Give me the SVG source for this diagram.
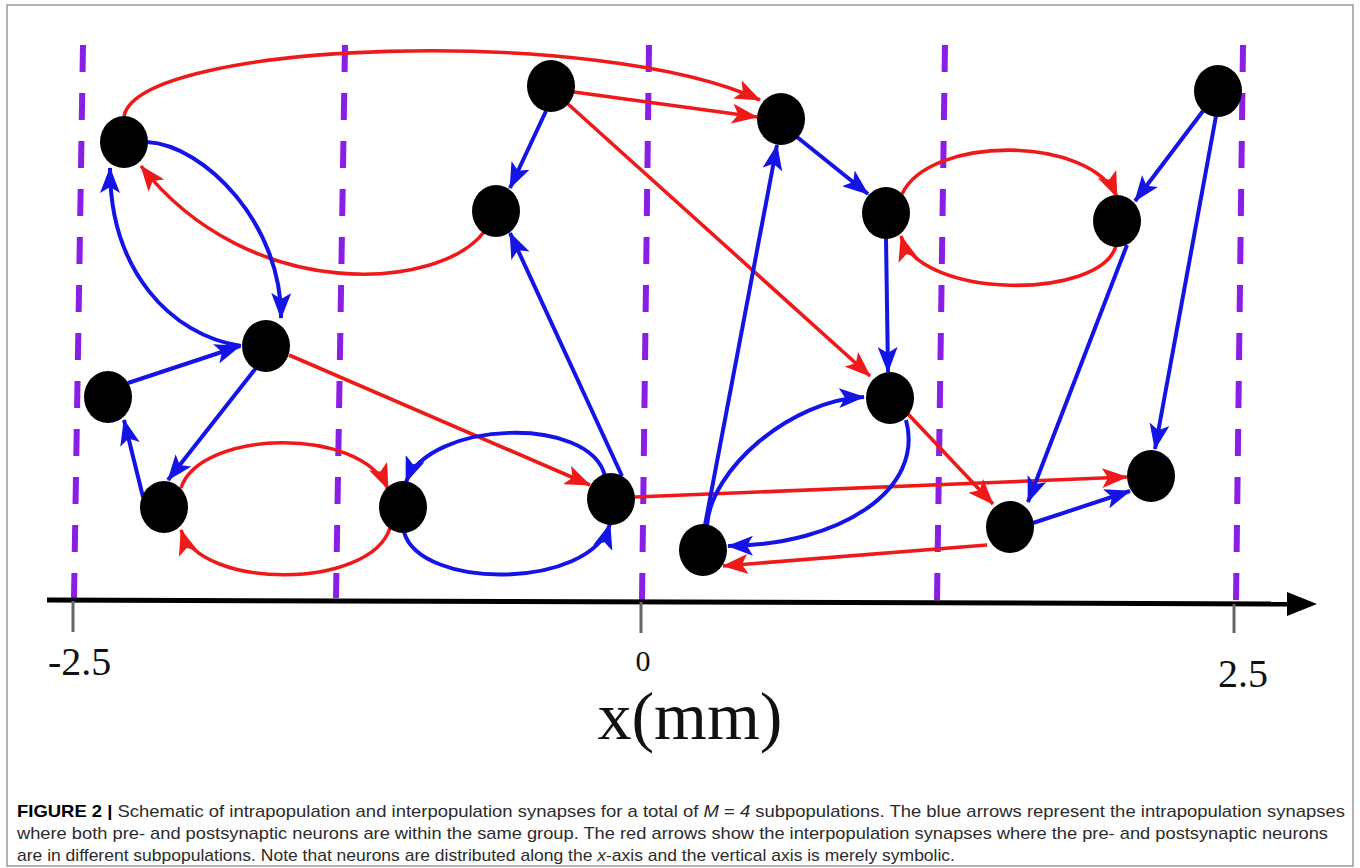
<svg xmlns="http://www.w3.org/2000/svg" width="1360" height="868" viewBox="0 0 1360 868">
<style>
.dash{stroke:#8a1ee6;stroke-width:6;stroke-dasharray:27 21;fill:none}
.red{stroke:#ee1a1a;stroke-width:3.6;fill:none;marker-end:url(#ahR)}
.blue{stroke:#1414e6;stroke-width:4;fill:none;marker-end:url(#ahB)}
.node{fill:#000}
.tick{stroke:#666;stroke-width:3}
.num{font-family:"Liberation Serif","Times New Roman",serif;fill:#111}
.cap{font-family:"Liberation Sans",Arial,sans-serif;font-size:17px;fill:#2b2b2b}
</style>
<defs>
<marker id="ahR" viewBox="0 0 26 20" refX="25" refY="10" markerWidth="26" markerHeight="20" markerUnits="userSpaceOnUse" orient="auto"><path d="M0,0 L26,10 L0,20 L6,10 z" fill="#ee1a1a"/></marker>
<marker id="ahB" viewBox="0 0 26 20" refX="25" refY="10" markerWidth="26" markerHeight="20" markerUnits="userSpaceOnUse" orient="auto"><path d="M0,0 L26,10 L0,20 L6,10 z" fill="#1414e6"/></marker>
</defs>
<rect x="0" y="0" width="1360" height="868" fill="#fff"/>
<rect x="7" y="5" width="1346" height="861" fill="none" stroke="#9a9a9a" stroke-width="1.5"/>
<g id="grid">
<line class="dash" x1="83" y1="45" x2="74" y2="598"/>
<line class="dash" x1="345" y1="45" x2="336" y2="598"/>
<line class="dash" x1="649" y1="45" x2="642" y2="600"/>
<line class="dash" x1="945" y1="45" x2="937" y2="600"/>
<line class="dash" x1="1243" y1="45" x2="1236" y2="602"/>
</g>
<g id="axis">
<line x1="47" y1="600" x2="1292" y2="604" stroke="#000" stroke-width="5"/>
<polygon points="1287,592 1317,604 1287,616" fill="#000"/>
<line class="tick" x1="73" y1="601" x2="73" y2="632"/>
<line class="tick" x1="641" y1="602" x2="641" y2="633"/>
<line class="tick" x1="1234" y1="604" x2="1234" y2="633"/>
<text class="num" x="48" y="675" font-size="40">-2.5</text>
<text class="num" x="643" y="671" font-size="30" text-anchor="middle">0</text>
<text class="num" x="1218" y="687" font-size="40">2.5</text>
<text class="num" x="690" y="739" font-size="68" text-anchor="middle" textLength="185" lengthAdjust="spacingAndGlyphs">x(mm)</text>
</g>
<g id="connectors">
<path class="red" d="M124 116 C140 40 600 25 760 100"/>
<path class="red" d="M574 92 L757 117"/>
<path class="red" d="M568 104 L870 376"/>
<path class="red" d="M484 232 C440 290 250 305 141 166"/>
<path class="red" d="M289 355 L590 485"/>
<path class="red" d="M181 488 C200 430 360 425 388 489"/>
<path class="red" d="M390 528 C370 590 200 590 181 530"/>
<path class="red" d="M902 194 C930 135 1090 135 1117 197"/>
<path class="red" d="M1116 246 C1100 300 920 300 901 236"/>
<path class="red" d="M635 497 L1127 477"/>
<path class="red" d="M908 414 L993 504"/>
<path class="red" d="M987 545 L723 566"/>
<path class="blue" d="M147 142 C205 145 282 225 281 318"/>
<path class="blue" d="M241 346 C170 335 110 270 110 168"/>
<path class="blue" d="M128 383 L240 346"/>
<path class="blue" d="M256 368 L168 480"/>
<path class="blue" d="M143 497 L124 420"/>
<path class="blue" d="M605 476 C590 415 430 420 406 482"/>
<path class="blue" d="M404 532 C420 590 590 590 610 524"/>
<path class="blue" d="M622 476 L510 233"/>
<path class="blue" d="M546 111 L510 188"/>
<path class="blue" d="M705 525 L777 145"/>
<path class="blue" d="M707 526 C710 470 790 400 864 397"/>
<path class="blue" d="M906 420 C925 490 840 545 728 546"/>
<path class="blue" d="M797 137 L868 194"/>
<path class="blue" d="M886 238 L888 372"/>
<path class="blue" d="M1203 111 L1135 201"/>
<path class="blue" d="M1216 116 L1155 449"/>
<path class="blue" d="M1127 245 L1028 502"/>
<path class="blue" d="M1033 523 L1130 491"/>
</g>
<g id="nA"><ellipse class="node" cx="124" cy="142" rx="24" ry="26"/></g>
<g id="nB"><ellipse class="node" cx="551" cy="86" rx="24" ry="26"/></g>
<g id="nC"><ellipse class="node" cx="781" cy="119" rx="24" ry="26"/></g>
<g id="nD"><ellipse class="node" cx="496" cy="211" rx="24" ry="26"/></g>
<g id="nE"><ellipse class="node" cx="886" cy="213" rx="24" ry="26"/></g>
<g id="nF"><ellipse class="node" cx="1117" cy="221" rx="24" ry="26"/></g>
<g id="nG"><ellipse class="node" cx="1218" cy="91" rx="24" ry="26"/></g>
<g id="nH"><ellipse class="node" cx="266" cy="346" rx="24" ry="26"/></g>
<g id="nI"><ellipse class="node" cx="108" cy="397" rx="24" ry="26"/></g>
<g id="nJ"><ellipse class="node" cx="164" cy="507" rx="24" ry="26"/></g>
<g id="nK"><ellipse class="node" cx="403" cy="507" rx="24" ry="26"/></g>
<g id="nL"><ellipse class="node" cx="611" cy="499" rx="24" ry="26"/></g>
<g id="nM"><ellipse class="node" cx="703" cy="550" rx="24" ry="26"/></g>
<g id="nN"><ellipse class="node" cx="890" cy="398" rx="24" ry="26"/></g>
<g id="nO"><ellipse class="node" cx="1010" cy="527" rx="24" ry="26"/></g>
<g id="nP"><ellipse class="node" cx="1151" cy="476" rx="24" ry="26"/></g>
<g id="caption">
<text class="cap" x="17" y="817" textLength="1328" lengthAdjust="spacingAndGlyphs"><tspan font-weight="bold" fill="#000">FIGURE 2 |</tspan> Schematic of intrapopulation and interpopulation synapses for a total of <tspan font-style="italic">M</tspan> = <tspan font-style="italic">4</tspan> subpopulations. The blue arrows represent the intrapopulation synapses</text>
<text class="cap" x="17" y="839" textLength="1311" lengthAdjust="spacingAndGlyphs">where both pre- and postsynaptic neurons are within the same group. The red arrows show the interpopulation synapses where the pre- and postsynaptic neurons</text>
<text class="cap" x="17" y="861" textLength="938" lengthAdjust="spacingAndGlyphs">are in different subpopulations. Note that neurons are distributed along the <tspan font-style="italic">x</tspan>-axis and the vertical axis is merely symbolic.</text>
</g>
</svg>
